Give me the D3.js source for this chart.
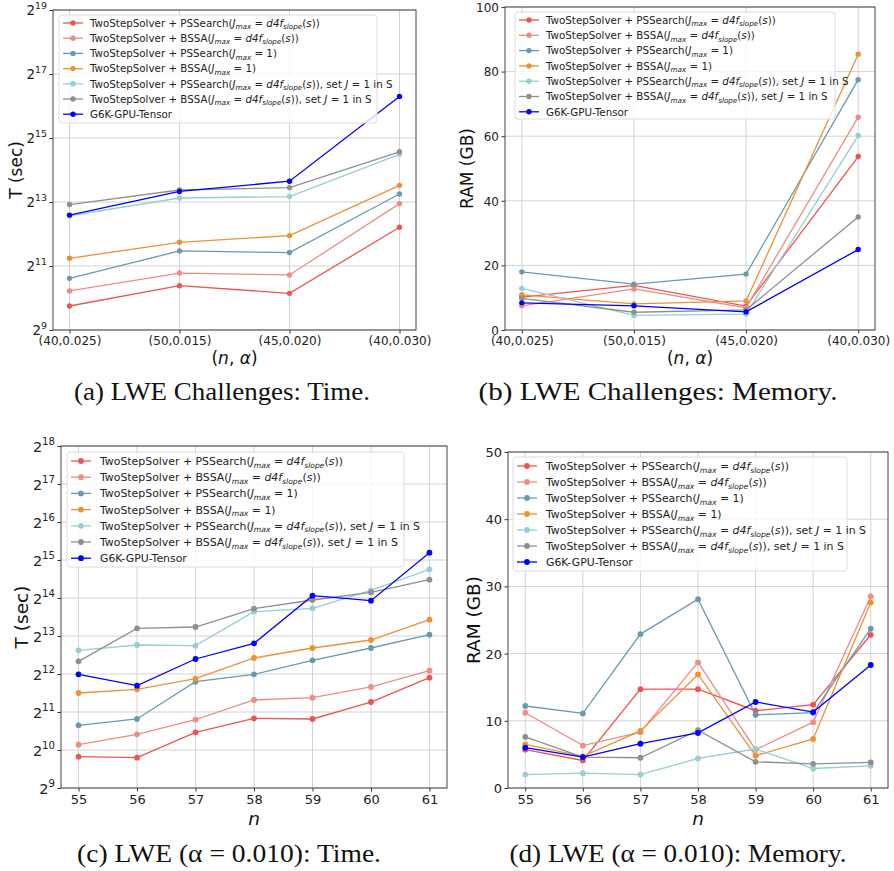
<!DOCTYPE html>
<html>
<head>
<meta charset="utf-8">
<script src="https://cdn.jsdelivr.net/npm/d3@7"></script>
<style>
  body { margin: 0; background: #fff; }
  svg { display: block; }
  text { font-family: "DejaVu Sans", sans-serif; }
  .caption { font-family: "Liberation Serif", serif; }
</style>
</head>
<body>
<div id="chart"></div>
<script>
// categories
var challenges = ["(40,0.025)", "(50,0.015)", "(45,0.020)", "(40,0.030)"];
var dims = [55, 56, 57, 58, 59, 60, 61];

// (a) LWE challenges, time in seconds
var chTimePSd4f   = [861, 1337, 1133, 4738];
var chTimeBSSAd4f = [1193, 1758, 1687, 7913];
var chTimePS1     = [1568, 2837, 2740, 9742];
var chTimeBSSA1   = [2419, 3421, 3957, 11747];
var chTimePSj1    = [6080, 8933, 9216, 23010];
var chTimeBSSAj1  = [7750, 10624, 11190, 24322];
var chTimeG6K     = [6165, 10297, 12855, 80681];

// (b) LWE challenges, RAM in GB
var chRamPSd4f   = [10.2, 13.8, 7.4, 53.7];
var chRamBSSAd4f = [7.5, 12.7, 6.9, 65.9];
var chRamPS1     = [18.0, 14.2, 17.3, 77.5];
var chRamBSSA1   = [10.9, 8.1, 9.0, 85.4];
var chRamPSj1    = [12.9, 4.5, 4.9, 60.2];
var chRamBSSAj1  = [9.8, 5.5, 6.2, 35.0];
var chRamG6K     = [8.4, 7.5, 5.6, 24.9];

// (c) alpha = 0.010, time in seconds
var nTimePSd4f   = [907, 891, 1413, 1824, 1803, 2457, 3832];
var nTimeBSSAd4f = [1128, 1362, 1783, 2549, 2660, 3232, 4354];
var nTimePS1     = [1606, 1803, 3561, 4071, 5257, 6581, 8393];
var nTimeBSSA1   = [2896, 3096, 3761, 5484, 6581, 7617, 11036];
var nTimePSj1    = [6308, 6951, 6870, 12766, 13569, 18847, 27632];
var nTimeBSSAj1  = [5159, 9423, 9654, 13484, 15794, 18166, 22883];
var nTimeG6K     = [4071, 3311, 5386, 7166, 17092, 15608, 37458];

// (d) alpha = 0.010, RAM in GB
var nRamPSd4f   = [5.7, 4.1, 14.7, 14.7, 11.5, 12.4, 22.8];
var nRamBSSAd4f = [11.2, 6.3, 8.3, 18.7, 5.7, 9.8, 28.5];
var nRamPS1     = [12.2, 11.1, 22.9, 28.1, 10.9, 11.2, 23.7];
var nRamBSSA1   = [6.5, 4.7, 8.5, 16.9, 4.8, 7.3, 27.6];
var nRamPSj1    = [2.0, 2.2, 2.0, 4.4, 5.8, 2.9, 3.3];
var nRamBSSAj1  = [7.6, 4.6, 4.5, 8.6, 3.9, 3.6, 3.8];
var nRamG6K     = [6.0, 4.6, 6.6, 8.2, 12.8, 11.3, 18.3];

// tick values
var logTicksA = [9, 11, 13, 15, 17, 19];
var logTicksC = [9, 10, 11, 12, 13, 14, 15, 16, 17, 18];
var ramTicksB = [0, 20, 40, 60, 80, 100];
var ramTicksD = [0, 10, 20, 30, 40, 50];

var colors = ["#ee5552", "#f08c86", "#6b9ab0", "#ec9236", "#97cdd4", "#8f8f8f", "#0000ff"];

// legend labels: [text, style] where style "" normal, "i" italic, "s" italic subscript
function jLabel(method, kind) {
  var parts = [["TwoStepSolver + " + method + "(", ""], ["J", "i"], ["max", "s"]];
  if (kind == "one") {
    parts.push([" = 1)", ""]);
  } else {
    parts.push([" = ", ""], ["d4f", "i"], ["slope", "s"], ["(", ""], ["s", "i"], ["))", ""]);
    if (kind == "setJ") parts.push([", set ", ""], ["J", "i"], [" = 1 in S", ""]);
  }
  return parts;
}
var legendLabels = [
  jLabel("PSSearch", "d4f"),
  jLabel("BSSA", "d4f"),
  jLabel("PSSearch", "one"),
  jLabel("BSSA", "one"),
  jLabel("PSSearch", "setJ"),
  jLabel("BSSA", "setJ"),
  [["G6K-GPU-Tensor", ""]]
];

var svgWidth = 894, svgHeight = 871;
var svg = d3.select("#chart").append("svg")
  .attr("width", svgWidth)
  .attr("height", svgHeight);

function drawPanel(p) {
  var g = svg.append("g");
  var x = d3.scaleLinear().domain(p.xDomain).range([p.x0, p.x1]);
  var y = p.log
    ? d3.scaleLog().base(2).domain([Math.pow(2, p.yTicks[0]), Math.pow(2, p.yTicks[p.yTicks.length - 1])]).range([p.y1, p.y0])
    : d3.scaleLinear().domain([p.yTicks[0], p.yTicks[p.yTicks.length - 1]]).range([p.y1, p.y0]);
  var yTickVals = p.log ? p.yTicks.map(function(e) { return Math.pow(2, e); }) : p.yTicks;
  var xIdx = p.xValues;

  // grid
  g.selectAll(".gx").data(xIdx).enter().append("line")
    .attr("x1", d => x(d)).attr("x2", d => x(d))
    .attr("y1", p.y0).attr("y2", p.y1)
    .attr("stroke", "#d3d3d3").attr("stroke-width", 1);
  g.selectAll(".gy").data(yTickVals).enter().append("line")
    .attr("x1", p.x0).attr("x2", p.x1)
    .attr("y1", d => y(d)).attr("y2", d => y(d))
    .attr("stroke", "#d3d3d3").attr("stroke-width", 1);

  // axes
  var bottomAxis = d3.axisBottom(x).tickValues(xIdx).tickSize(3.5)
    .tickFormat(function(d, i) { return p.xLabels[i]; });
  var gx = g.append("g").attr("transform", `translate(0, ${p.y1})`).call(bottomAxis);
  gx.select(".domain").remove();
  gx.selectAll("text").attr("font-size", p.tickFont).attr("fill", "#222")
    .attr("font-family", "DejaVu Sans").attr("dy", "0.74em");

  var leftAxis = d3.axisLeft(y).tickValues(yTickVals).tickSize(3.5).tickFormat("");
  var gy = g.append("g").attr("transform", `translate(${p.x0}, 0)`).call(leftAxis);
  gy.select(".domain").remove();
  gy.selectAll(".tick").each(function(d, i) {
    var t = d3.select(this).append("text")
      .attr("x", -6).attr("y", 0).attr("dy", "0.35em")
      .attr("text-anchor", "end")
      .attr("fill", "#222")
      .attr("font-size", p.log ? p.tickFont + 1.5 : p.tickFont);
    if (p.log) {
      t.append("tspan").text("2");
      t.append("tspan").attr("font-size", p.tickFont * 0.78).attr("dy", "-0.62em").text(p.yTicks[i]);
    } else {
      t.text(d);
    }
  });
  g.selectAll(".tick line").attr("stroke", "#333");

  // frame
  g.append("rect")
    .attr("x", p.x0).attr("y", p.y0)
    .attr("width", p.x1 - p.x0).attr("height", p.y1 - p.y0)
    .attr("fill", "none").attr("stroke", "#444").attr("stroke-width", 1);

  // series
  var line = d3.line().x((d, i) => x(p.xValues[i])).y(d => y(d));
  p.series.forEach(function(s, k) {
    g.append("path").datum(s)
      .attr("d", line)
      .attr("fill", "none")
      .attr("stroke", colors[k])
      .attr("stroke-width", 1.3);
    g.selectAll(".pt" + k).data(s).enter().append("circle")
      .attr("cx", (d, i) => x(p.xValues[i]))
      .attr("cy", d => y(d))
      .attr("r", p.r)
      .attr("fill", colors[k]);
  });

  // legend
  var L = p.legend;
  var lg = g.append("g");
  lg.append("rect")
    .attr("x", L.x).attr("y", L.y).attr("width", L.w).attr("height", L.h)
    .attr("rx", 3)
    .attr("fill", "#fff").attr("fill-opacity", 0.8)
    .attr("stroke", "#dcdcdc");
  legendLabels.forEach(function(parts, k) {
    var yy = L.y + L.first + k * L.step;
    lg.append("line")
      .attr("x1", L.x + 4).attr("x2", L.x + 4 + L.sw)
      .attr("y1", yy).attr("y2", yy)
      .attr("stroke", colors[k]).attr("stroke-width", 1.3);
    lg.append("circle").attr("cx", L.x + 4 + L.sw / 2).attr("cy", yy).attr("r", p.r).attr("fill", colors[k]);
    var t = lg.append("text")
      .attr("x", L.x + L.tx).attr("y", yy).attr("dy", "0.36em")
      .attr("font-size", L.font).attr("fill", "#222");
    var lowered = false;
    parts.forEach(function(pt) {
      var sp = t.append("tspan").text(pt[0]);
      if (pt[1] == "i" || pt[1] == "s") sp.attr("font-style", "italic");
      if (pt[1] == "s") {
        sp.attr("font-size", L.font * 0.7).attr("dy", "0.35em");
        lowered = true;
      } else if (lowered) {
        sp.attr("dy", (-L.font * 0.7 * 0.35) + "px");
        lowered = false;
      }
    });
  });

  // axis labels
  g.append("text")
    .attr("transform", `translate(${p.yLabelX}, ${(p.y0 + p.y1) / 2}) rotate(-90)`)
    .attr("text-anchor", "middle")
    .attr("font-size", p.labelFont).attr("fill", "#111")
    .text(p.yLabel);
  var xl = g.append("text")
    .attr("x", (p.x0 + p.x1) / 2).attr("y", p.xLabelY)
    .attr("text-anchor", "middle")
    .attr("font-size", p.labelFont).attr("fill", "#111");
  if (p.xLabel == "n") {
    xl.append("tspan").attr("font-style", "italic").text("n");
  } else {
    xl.append("tspan").text("(");
    xl.append("tspan").attr("font-style", "italic").text("n");
    xl.append("tspan").text(", ");
    xl.append("tspan").attr("font-style", "italic").text("α");
    xl.append("tspan").text(")");
  }

  // caption
  svg.append("text").attr("class", "caption")
    .attr("x", p.capX).attr("y", p.capY)
    .attr("text-anchor", "middle")
    .attr("font-size", 25).attr("fill", "#111")
    .attr("textLength", p.capW).attr("lengthAdjust", "spacingAndGlyphs")
    .text(p.caption);
}

var idx4 = [0, 1, 2, 3];

drawPanel({
  x0: 53, x1: 416, y0: 10, y1: 330, log: true,
  xDomain: [-0.15, 3.15], xValues: idx4, xLabels: challenges,
  yTicks: logTicksA, tickFont: 12, labelFont: 17, r: 2.7,
  series: [chTimePSd4f, chTimeBSSAd4f, chTimePS1, chTimeBSSA1, chTimePSj1, chTimeBSSAj1, chTimeG6K],
  legend: {x: 59, y: 15, w: 318, h: 108, first: 8, step: 15.2, sw: 20, tx: 31, font: 10.3},
  yLabel: "T (sec)", yLabelX: 22, xLabel: "na", xLabelY: 364,
  caption: "(a) LWE Challenges: Time.", capX: 222, capY: 400, capW: 296
});

drawPanel({
  x0: 505, x1: 875, y0: 7, y1: 330, log: false,
  xDomain: [-0.15, 3.15], xValues: idx4, xLabels: challenges,
  yTicks: ramTicksB, tickFont: 12, labelFont: 17, r: 2.7,
  series: [chRamPSd4f, chRamBSSAd4f, chRamPS1, chRamBSSA1, chRamPSj1, chRamBSSAj1, chRamG6K],
  legend: {x: 515, y: 12, w: 320, h: 107, first: 8, step: 15.3, sw: 20, tx: 31, font: 10.3},
  yLabel: "RAM (GB)", yLabelX: 473, xLabel: "na", xLabelY: 364,
  caption: "(b) LWE Challenges: Memory.", capX: 658, capY: 400, capW: 359
});

drawPanel({
  x0: 61, x1: 447, y0: 446, y1: 788, log: true,
  xDomain: [54.7, 61.3], xValues: dims, xLabels: dims.map(String),
  yTicks: logTicksC, tickFont: 13, labelFont: 18.5, r: 2.9,
  series: [nTimePSd4f, nTimeBSSAd4f, nTimePS1, nTimeBSSA1, nTimePSj1, nTimeBSSAj1, nTimeG6K],
  legend: {x: 67, y: 452, w: 337, h: 115, first: 9, step: 16.2, sw: 20, tx: 33, font: 10.9},
  yLabel: "T (sec)", yLabelX: 28, xLabel: "n", xLabelY: 825,
  caption: "(c) LWE (α = 0.010): Time.", capX: 229, capY: 862, capW: 304
});

drawPanel({
  x0: 508, x1: 888, y0: 452, y1: 788, log: false,
  xDomain: [54.7, 61.3], xValues: dims, xLabels: dims.map(String),
  yTicks: ramTicksD, tickFont: 13, labelFont: 18.5, r: 2.9,
  series: [nRamPSd4f, nRamBSSAd4f, nRamPS1, nRamBSSA1, nRamPSj1, nRamBSSAj1, nRamG6K],
  legend: {x: 513, y: 457, w: 334, h: 114, first: 9, step: 16, sw: 20, tx: 33, font: 10.9},
  yLabel: "RAM (GB)", yLabelX: 480, xLabel: "n", xLabelY: 825,
  caption: "(d) LWE (α = 0.010): Memory.", capX: 678, capY: 862, capW: 337
});
</script>
</body>
</html>
